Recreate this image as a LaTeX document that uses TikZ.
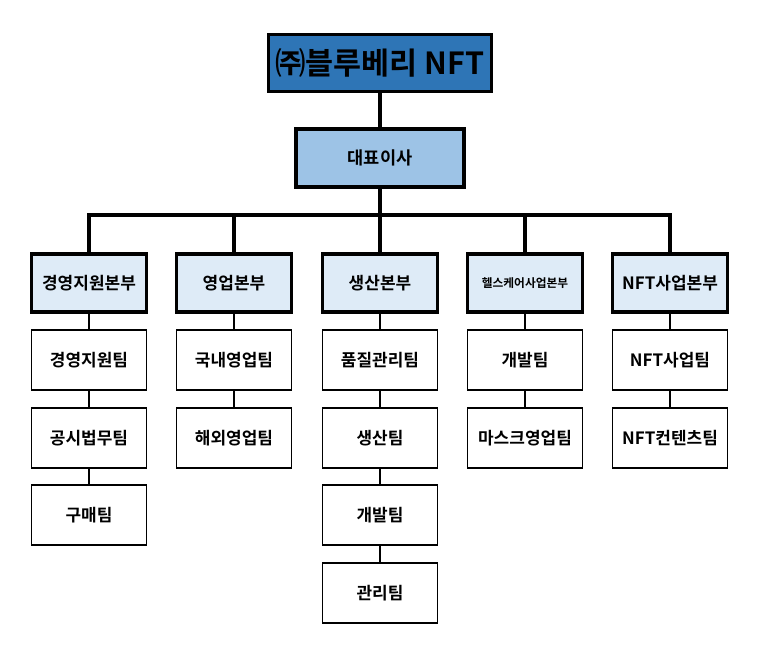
\documentclass[tikz,border=0pt]{standalone}
\usepackage{fontspec}
\setmainfont{Noto Sans CJK KR}[BoldFont={Noto Sans CJK KR Bold}]
\definecolor{topblue}{RGB}{46, 117, 182}
\definecolor{ceoblue}{RGB}{157, 195, 230}
\definecolor{deptblue}{RGB}{222, 235, 247}
\usetikzlibrary{positioning}

\begin{document}
\begin{tikzpicture}[
        x=0.03cm, y=-0.03cm,
        every node/.style={font=\bfseries},
        company/.style={rectangle, draw=black, line width=3pt, fill=topblue, minimum width=6.7cm, minimum height=1.72cm, font=\bfseries\fontsize{26}{28}\selectfont},
        ceo/.style={rectangle, draw=black, line width=3pt, fill=ceoblue, minimum width=5.05cm, minimum height=1.75cm, font=\bfseries\fontsize{15}{17}\selectfont},
        dept/.style={rectangle, draw=black, line width=3pt, fill=deptblue, minimum width=3.45cm, minimum height=1.75cm, inner sep=1pt, font=\bfseries\fontsize{14.5}{16}\selectfont},
        team/.style={rectangle, draw=black, line width=1pt, fill=white, minimum width=3.45cm, minimum height=1.8cm, font=\bfseries\fontsize{14.5}{16}\selectfont},
        thickline/.style={line width=3pt},
        thinline/.style={line width=1pt}
    ]
        \useasboundingbox (0,0) rectangle (763,644);

        % Top
        \node[company] (company) at (380,63) {㈜블루베리 NFT};
        \node[ceo] (ceo) at (380,158) {대표이사};
        \coordinate (bus) at (380,215);

        % Departments
        \node[dept] (d1) at (89,283) {경영지원본부};
        \node[dept] (d2) at (234,283) {영업본부};
        \node[dept] (d3) at (380,283) {생산본부};
        \node[dept, font=\bfseries\fontsize{10}{12}\selectfont] (d4) at (525,283) {헬스케어사업본부};
        \node[dept] (d5) at (670,283) {NFT사업본부};

        % Teams
        \node[team] (t11) at (89,360) {경영지원팀};
        \node[team] (t12) at (89,438) {공시법무팀};
        \node[team] (t13) at (89,515) {구매팀};
        \node[team] (t21) at (234,360) {국내영업팀};
        \node[team] (t22) at (234,438) {해외영업팀};
        \node[team] (t31) at (380,360) {품질관리팀};
        \node[team] (t32) at (380,438) {생산팀};
        \node[team] (t33) at (380,515) {개발팀};
        \node[team] (t34) at (380,593) {관리팀};
        \node[team] (t41) at (525,360) {개발팀};
        \node[team] (t42) at (525,438) {마스크영업팀};
        \node[team] (t51) at (670,360) {NFT사업팀};
        \node[team] (t52) at (670,438) {NFT컨텐츠팀};

        % Connectors
        \draw[thickline] (company) -- (ceo);
        \draw[thickline] (ceo) -- (bus);
        \draw[thickline] (d1.north) |- (bus) -| (d5.north);
        \foreach \d in {d2,d3,d4}
            \draw[thickline] (\d.north) -- (\d.north |- bus);
        \draw[thinline] (d1) -- (t11) -- (t12) -- (t13);
        \draw[thinline] (d2) -- (t21) -- (t22);
        \draw[thinline] (d3) -- (t31) -- (t32) -- (t33) -- (t34);
        \draw[thinline] (d4) -- (t41) -- (t42);
        \draw[thinline] (d5) -- (t51) -- (t52);

    \end{tikzpicture}
\end{document}
